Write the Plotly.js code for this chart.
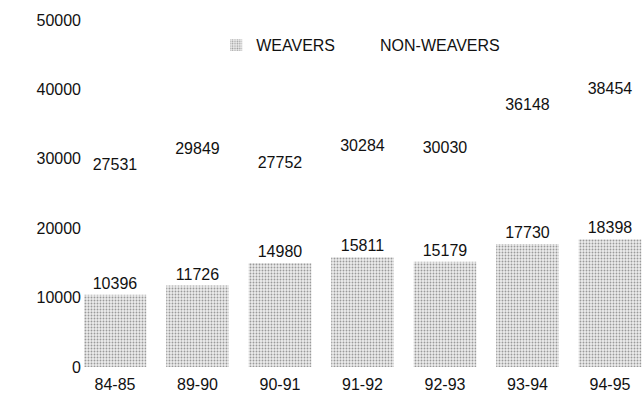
<!DOCTYPE html>
<html>
<head>
<meta charset="utf-8">
<script src="https://cdn.plot.ly/plotly-3.0.1.min.js"></script>
<style>html,body{margin:0;padding:0;background:#fff;}#chart{width:643px;height:403px;}</style>
</head>
<body>
<div id="chart"></div>
<script>
const categories = ["84-85", "89-90", "90-91", "91-92", "92-93", "93-94", "94-95"];
const weavers = [10396, 11726, 14980, 15811, 15179, 17730, 18398];
const nonWeavers = [27531, 29849, 27752, 30284, 30030, 36148, 38454];
const yTicks = [0, 10000, 20000, 30000, 40000, 50000];

const font = {family: "Liberation Sans, Arial, sans-serif", size: 16, color: "#111"};

const traces = [
  {
    type: "bar", name: "NON-WEAVERS", x: categories, y: nonWeavers,
    width: 0.76,
    marker: {color: "#ffffff", line: {width: 0}},
    text: nonWeavers.map(String), textposition: "outside",
    textfont: font, cliponaxis: false, legendrank: 2, hoverinfo: "x+y"
  },
  {
    type: "bar", name: "WEAVERS", x: categories, y: weavers,
    width: 0.76,
    marker: {color: "#dcdcdc",
      pattern: {shape: ".", fgcolor: "#9a9a9a", bgcolor: "#ececec", size: 3, solidity: 0.3},
      line: {width: 0}},
    text: weavers.map(String), textposition: "outside",
    textfont: font, cliponaxis: false, legendrank: 1, hoverinfo: "x+y"
  }
];

const layout = {
  width: 643, height: 403,
  margin: {l: 84, r: 0, t: 20, b: 36},
  paper_bgcolor: "#fff", plot_bgcolor: "#fff",
  barmode: "overlay",
  font: font,
  showlegend: true,
  legend: {orientation: "h", x: 0.495, xanchor: "center", y: 0.928, yanchor: "middle",
    font: font, bgcolor: "rgba(0,0,0,0)", itemwidth: 30},
  xaxis: {range: [-0.376, 6.4], showline: false, showgrid: false, zeroline: false,
    ticks: "", tickfont: font, fixedrange: true, ticklabelstandoff: 6},
  yaxis: {range: [0, 50000], tickvals: yTicks, ticktext: yTicks.map(String),
    showline: false, showgrid: false, zeroline: false, ticks: "",
    tickfont: font, fixedrange: true, ticklabelstandoff: 2}
};

Plotly.newPlot("chart", traces, layout, {displayModeBar: false, staticPlot: true});
</script>
</body>
</html>
